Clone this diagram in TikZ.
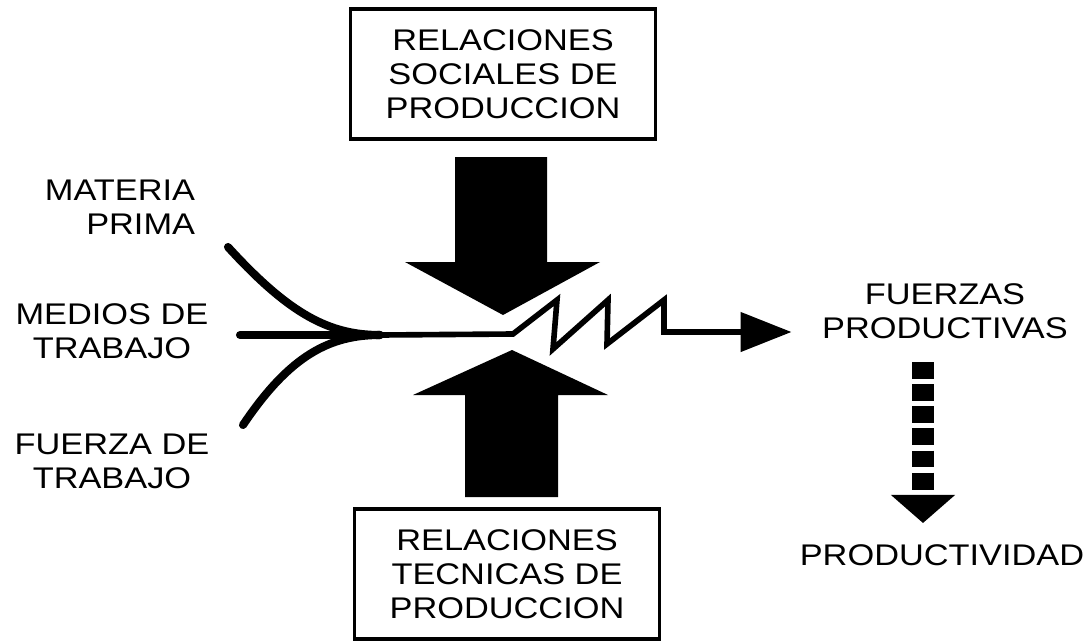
\documentclass[tikz,border=0pt]{standalone}
\usepackage{fontspec}
\setmainfont[FakeStretch=1.15]{Liberation Sans}
\usetikzlibrary{arrows.meta}

\begin{document}
\begin{tikzpicture}[x=0.02cm,y=-0.02cm,
        thick,font=\fontsize{17}{19.2}\selectfont,
        word/.style={inner sep=0pt,align=center},
        box node/.style={draw,line width=1.8pt,inner sep=0pt,align=center,
          minimum width=6.1cm,minimum height=2.6cm},
        fat arrow/.style={fill=black},
        flow/.style={line width=4.6pt,line cap=round}]
    \useasboundingbox (0,0) rectangle (1086,640);
    \node[box node] (social) at (503,74) {RELACIONES\\SOCIALES DE\\PRODUCCION};
    \node[box node] (tecnica) at (507,574) {RELACIONES\\TECNICAS DE\\PRODUCCION};
    \node[word, align=right] (materia) at (120,207) {MATERIA\\PRIMA};
    \node[word] (medios) at (112,331) {MEDIOS DE\\TRABAJO};
    \node[word] (fuerza) at (112,461) {FUERZA DE\\TRABAJO};
    \node[word] (fp) at (945,311) {FUERZAS\\PRODUCTIVAS};
    \node[word] (prod) at (942,555) {PRODUCTIVIDAD};
    \coordinate (join) at (380,335);
    \coordinate (m) at (228,247);
    \coordinate (t) at (240,335);
    \coordinate (f) at (243,425);
    \coordinate (tip) at (923,523);
    \fill[fat arrow] (455,157) -- (547,157) -- (547,262) -- (600,262) -- (503,315)
      -- (405,262) -- (455,262) -- cycle;
    \fill[fat arrow] (465,497) -- (558,497) -- (558,395) -- (608,395) -- (512,350)
      -- (413,395) -- (465,395) -- cycle;
    \draw[flow] (m) .. controls (290,315) and (330,335) .. (join);
    \draw[flow] (f) .. controls (290,355) and (330,335) .. (join);
    \draw[flow] (t) -- (join);
    \draw[line width=3.2pt, -{Triangle[width=22pt,length=29pt]}]
      (join) -- (513,334) -- (557,300) -- (553,349) -- (608,300) -- (607,344)
      -- (664,300) -- (664,332) -- ([xshift=-0.6cm]fp.west |- 0,332);
    \draw[line width=13pt, dash pattern=on 9.6pt off 3pt,
      -{Triangle[width=35.7pt,length=16pt]}] (923,362) -- (tip);
\end{tikzpicture}
\end{document}
